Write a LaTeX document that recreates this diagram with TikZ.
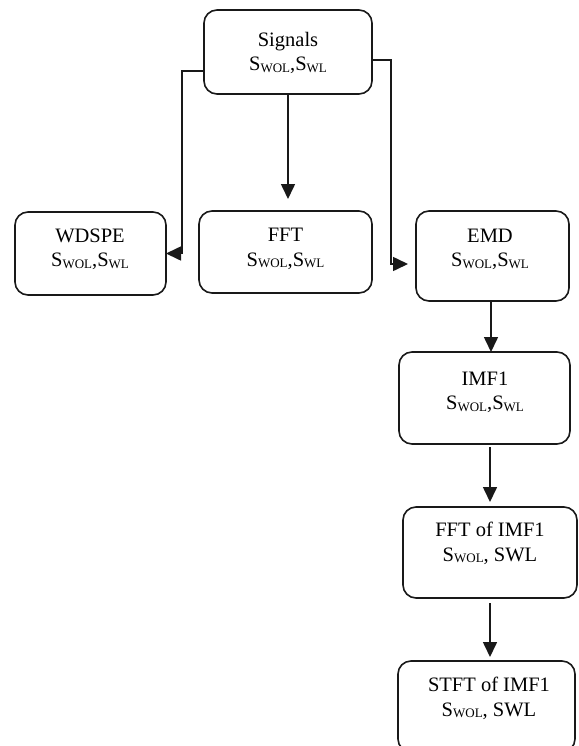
\documentclass[tikz,border=0pt]{standalone}
\usepackage{fontspec}
\setmainfont{Liberation Serif}
\usetikzlibrary{arrows.meta,calc}
\newcommand\mysub[1]{\raisebox{-1.5bp}{\fontsize{13bp}{13bp}\selectfont #1}}
\begin{document}
\begin{tikzpicture}[x=1bp,y=-1bp,
  box/.style={draw=black!90,line width=1.6bp,rounded corners=13bp,inner sep=0pt,outer sep=0pt},
  lbl/.style={align=center,inner sep=0pt,text=black,font=\fontsize{20.5bp}{24.5bp}\selectfont},
  conn/.style={draw=black!90,line width=1.6bp,-{Triangle[length=15bp,width=14bp]}}]
\useasboundingbox (0,0) rectangle (579,746);
\clip (0,0) rectangle (579,746);
\fill[white] (0,0) rectangle (579,746);
% boxes
\node[box,minimum width=168bp,minimum height=84bp] (sig) at (288,52) {};
\node[box,minimum width=151bp,minimum height=83bp] (wds) at (90.5,253.5) {};
\node[box,minimum width=173bp,minimum height=82bp] (fft) at (285.5,252) {};
\node[box,minimum width=153bp,minimum height=90bp] (emd) at (492.5,256) {};
\node[box,minimum width=171bp,minimum height=92bp] (imf) at (484.5,398) {};
\node[box,minimum width=174bp,minimum height=91bp] (fim) at (490,552.5) {};
\node[box,minimum width=177bp,minimum height=91bp] (stf) at (486.5,706.5) {};
% labels
\node[lbl] (sigt) at (288,53) {Signals\\S\mysub{WOL},S\mysub{WL}};
\node[lbl] (wdst) at (90,249.5) {WDSPE\\S\mysub{WOL},S\mysub{WL}};
\node[lbl] (fftt) at (285.5,249) {FFT\\S\mysub{WOL},S\mysub{WL}};
\node[lbl] (emdt) at (490,249.5) {EMD\\S\mysub{WOL},S\mysub{WL}};
\node[lbl] (imft) at (485,392.5) {IMF1\\S\mysub{WOL},S\mysub{WL}};
\node[lbl] (fimt) at (490,543.5) {FFT of IMF1\\S\mysub{WOL}, SWL};
\node[lbl] (stft) at (489,698.5) {STFT of IMF1\\S\mysub{WOL}, SWL};
% connectors
\draw[conn] ([yshift=-19bp]sig.west) -| ([xshift=16bp]wds.east) -- (wds.east);
\draw[conn] ([yshift=-8bp]sig.east) -| ([xshift=-25bp,yshift=-8bp]emd.west) -- ([xshift=-8bp,yshift=-8bp]emd.west);
\draw[conn] (sig.south) -- ($(sig.south |- fft.north)+(0,-12)$);
\draw[conn] ($(emd.south)+(-1.5,0)$) -- ($(emd.south |- imf.north)+(-1.5,0)$);
\draw[conn] ($(fim.north |- imf.south)+(0,3)$) -- ($(fim.north)+(0,-5)$);
\draw[conn] ($(fim.south)+(0,5)$) -- ($(fim.south |- stf.north)+(0,-4)$);
\end{tikzpicture}
\end{document}
